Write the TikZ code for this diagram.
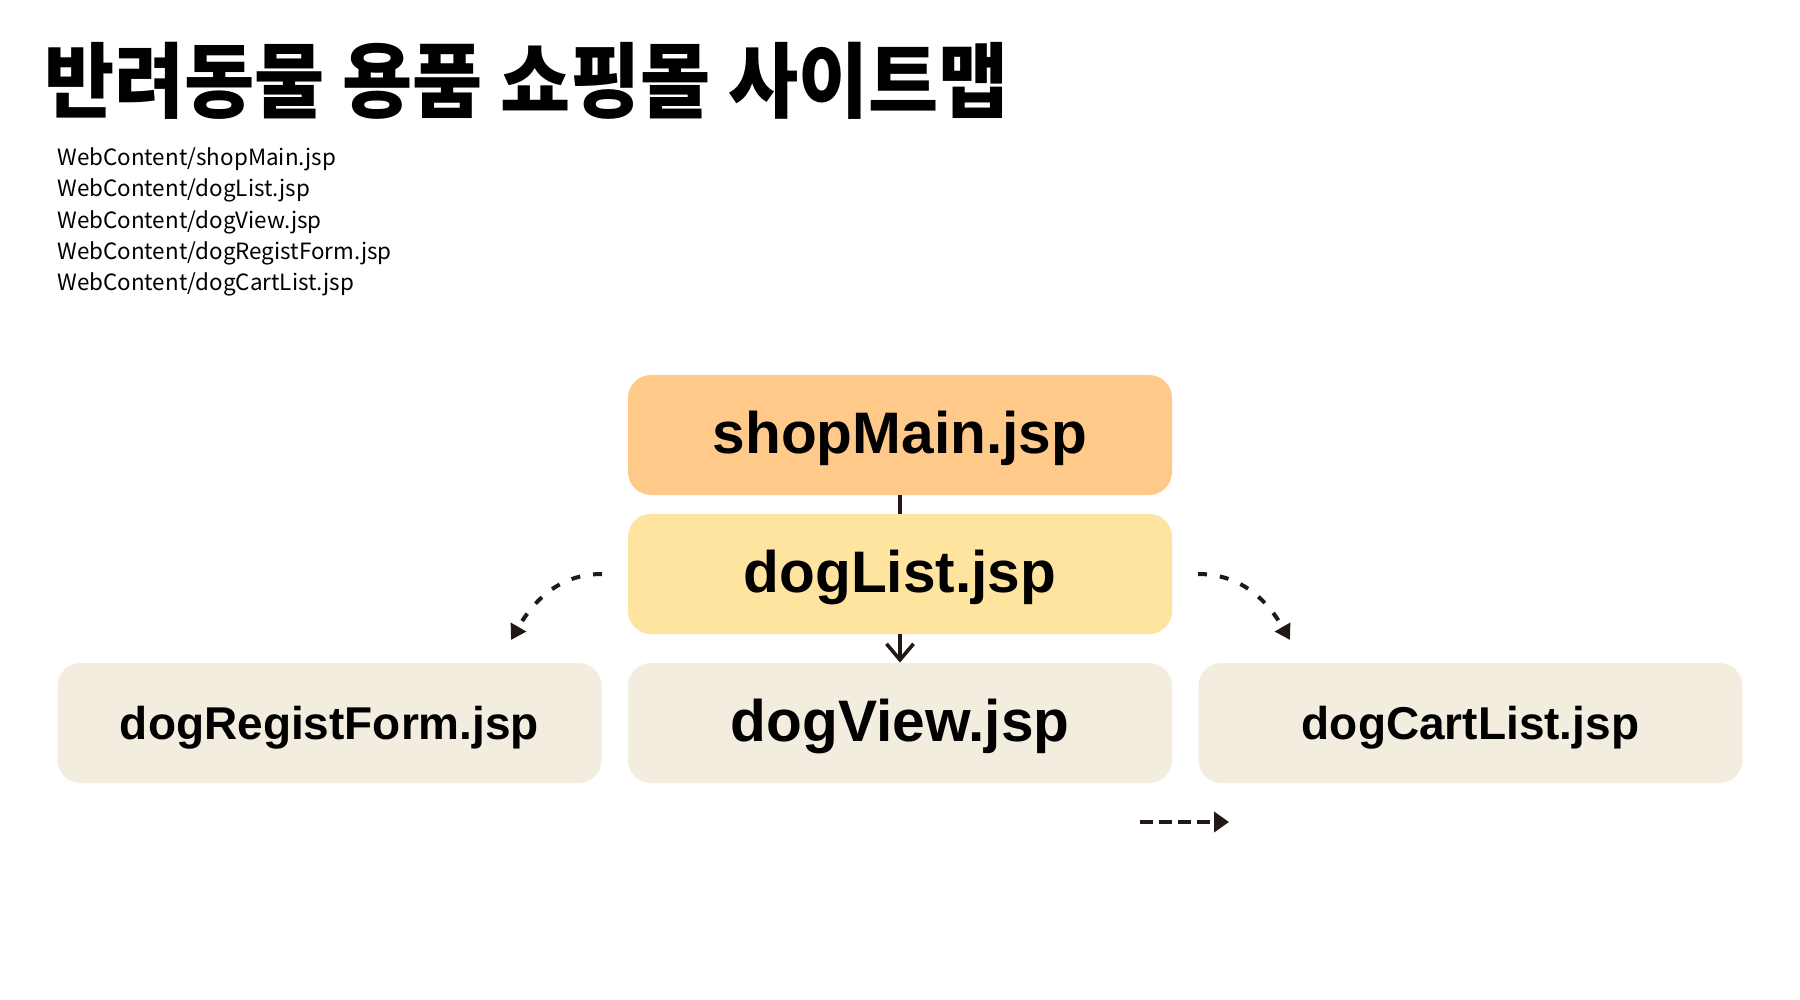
\documentclass[tikz,border=0pt]{standalone}
\usepackage{fontspec}
\setmainfont{Liberation Sans}
\newfontfamily\krfont{Noto Sans CJK KR}
\newfontfamily\krtitle{Noto Sans CJK KR}[FakeStretch=0.93]
\usetikzlibrary{arrows.meta}

\definecolor{mainorange}{HTML}{FFC98A}
\definecolor{listyellow}{HTML}{FFE4A0}
\definecolor{pagebeige}{HTML}{F3EDDF}
\definecolor{arrowdark}{HTML}{231815}

\tikzset{
	page/.style={rounded corners=11.5pt, minimum width=272pt, minimum height=60pt, inner sep=0pt},
	bigpage/.style={page, text height=20.5pt, text depth=1.8pt, font=\bfseries\fontsize{29.3}{34}\selectfont},
	sidepage/.style={page, fill=pagebeige, text height=16.1pt, text depth=0pt, font=\bfseries\fontsize{23}{28}\selectfont},
	filepath/.style={anchor=base west, inner sep=0pt, font=\krfont\fontsize{11.2}{14}\selectfont},
	linkline/.style={arrowdark, line width=1.8pt},
	subline/.style={arrowdark, line width=2pt, dash pattern=on 4.5pt off 6.5pt, -{Triangle[length=7.5pt,width=8.5pt]}}
}

\begin{document}
\begin{tikzpicture}[x=0.5pt, y=-0.5pt]
		\fill [white] (0,0) rectangle (1800,1000);
		
		\node [anchor=base west, inner sep=0pt, font=\krtitle\bfseries\fontsize{41}{48}\selectfont] (title) at (44,112) {반려동물 용품 쇼핑몰 사이트맵};
		
		\node [filepath] (f1) at (57,166) {WebContent/shopMain.jsp};
		\node [filepath] (f2) at (57,197) {WebContent/dogList.jsp};
		\node [filepath] (f3) at (57,229) {WebContent/dogView.jsp};
		\node [filepath] (f4) at (57,260) {WebContent/dogRegistForm.jsp};
		\node [filepath] (f5) at (57,291) {WebContent/dogCartList.jsp};
		
		% pages
		\node [bigpage, fill=mainorange] (shopMain) at (900,435) {shopMain.jsp};
		\node [bigpage, fill=listyellow] (dogList) at (900,574) {dogList.jsp};
		\node [bigpage, fill=pagebeige] (dogView) at (900,723) {dogView.jsp};
		\node [sidepage] (dogRegistForm) at (329.5,723) {dogRegistForm.jsp};
		\node [sidepage] (dogCartList) at (1470.5,723) {dogCartList.jsp};
		
		\draw [linkline] (shopMain.south) -- (dogList.north);
		\draw [linkline, -{Straight Barb[length=8pt,width=13.5pt,line width=1.8pt]}] (dogList.south) -- (dogView.north);
		
		\coordinate (leftstart) at (602,574);
		\coordinate (leftend) at (511,640);
		\coordinate (rightstart) at (1198,574);
		\coordinate (rightend) at (1290,640);
		\draw [subline] (leftstart) to[out=180, in=60] (leftend);
		\draw [subline] (rightstart) to[out=0, in=120] (rightend);
		
		\coordinate (keystart) at (1140,822);
		\coordinate (keyend) at (1229,822);
		\draw [arrowdark, line width=2pt, dash pattern=on 6.5pt off 3pt, -{Triangle[length=7.5pt,width=10pt]}] (keystart) -- (keyend);
		
	\end{tikzpicture}
\end{document}
